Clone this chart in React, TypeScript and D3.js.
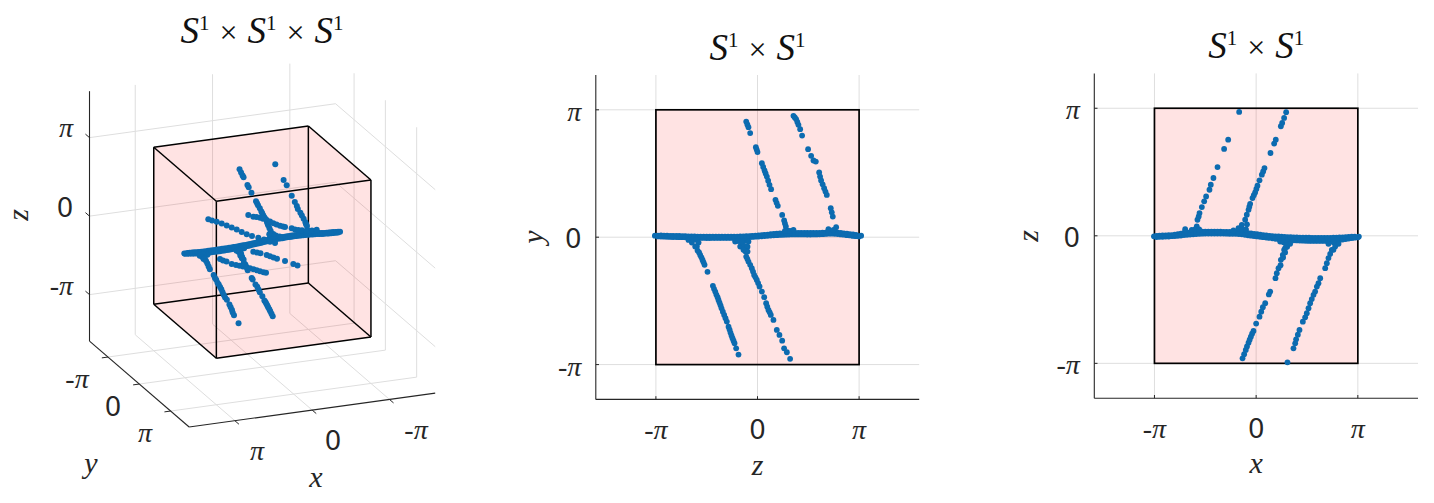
import React from "react";
import * as d3 from "d3";

// All coordinates are in units of pi.
const tickValues = [-1, 0, 1];
const tickLabels = ["-π", "0", "π"];

// Panel 2 (z, y)
const zyBand = [[-1.01,.012],[-.98,.006],[-.95,.014],[-.92,.004],[-.89,.012],[-.86,.002],[-.83,.011],[-.80,.001],[-.77,.010],[-.74,.0],[-.71,.008],[-.68,-.002],[-.65,.007],[-.62,-.004],[-.59,.005],[-.56,-.006],[-.53,.005],[-.50,-.007],[-.47,.004],[-.44,-.006],[-.41,.004],[-.38,-.006],[-.35,.004],[-.32,-.006],[-.29,.004],[-.26,-.006],[-.23,.005],[-.20,-.005],[-.17,.006],[-.14,-.002],[-.11,.008],[-.08,.001],[-.05,.011],[-.02,.004],[.01,.014],[.04,.007],[.07,.018],[.10,.011],[.13,.023],[.16,.015],[.19,.027],[.22,.018],[.25,.030],[.28,.02],[.31,.033],[.34,.022],[.37,.034],[.40,.022],[.43,.034],[.46,.022],[.49,.033],[.52,.021],[.55,.033],[.58,.022],[.61,.034],[.64,.024],[.67,.036],[.70,.028],[.73,.038],[.76,.027],[.79,.036],[.82,.022],[.85,.030],[.88,.016],[.91,.024],[.94,.010],[.97,.018],[1.0,.006],[1.02,.012],
  [-.965,.01],[-.905,.008],[-.845,.006],[-.785,.005],[-.725,.004],[-.665,.002],[-.605,0],[-.545,0],[-.485,-.002],[-.425,-.001],[-.365,-.001],[-.305,-.001],[-.245,0],[-.185,0],[-.125,.003],[-.065,.006],[-.005,.009],[.055,.012],[.115,.017],[.175,.021],[.235,.024],[.295,.026],[.355,.028],[.415,.028],[.475,.028],[.535,.027],[.595,.028],[.655,.03],[.715,.033],[.775,.032],[.835,.026],[.895,.02],[.955,.014]];
const zyBandEdge = [[-.98,.013],[-.95,.005],[-.92,.013],[-.89,.003],[-.86,.011],[-.83,.001],[-.80,.010],[-.77,0],[-.74,.009],[-.71,-.001],[-.68,.007],[-.65,-.003],[-.62,.006],[-.59,-.005],[-.56,.005],[-.53,-.006],[-.50,.004],[-.47,-.007],[-.44,.004],[-.41,-.006],[-.38,.004],[-.35,-.006],[-.32,.004],[-.29,-.006],[-.26,.004],[-.23,-.006],[-.20,.005],[-.17,-.004],[-.14,.007],[-.11,-.002],[-.08,.009],[-.05,.002],[-.02,.012],[.01,.005],[.04,.016],[.07,.009],[.10,.020],[.13,.013],[.16,.025],[.19,.016],[.22,.029],[.25,.019],[.28,.031],[.31,.021],[.34,.034],[.37,.022],[.40,.034],[.43,.022],[.46,.034],[.49,.021],[.52,.033],[.55,.022],[.58,.033],[.61,.023],[.64,.035],[.67,.026],[.70,.037],[.73,.028],[.76,.038],[.79,.025],[.82,.034],[.85,.02],[.88,.027],[.91,.014],[.94,.021],[.97,.008]];
const zyLowerLeft = [[-.679,-.021],[-.64,-.02],[-.60,-.02],[-.58,-.042],[-.597,-.073],[-.646,-.042],[-.613,-.073],[-.59,-.105],[-.575,-.12],[-.564,-.139],[-.552,-.158],[-.541,-.178],[-.531,-.197],[-.521,-.217],[-.492,-.272],[-.439,-.382],[-.428,-.405],[-.416,-.427],[-.405,-.45],[-.393,-.471],[-.384,-.492],[-.374,-.513],[-.364,-.535],[-.354,-.558],[-.341,-.585],[-.328,-.61],[-.315,-.636],[-.302,-.662],[-.285,-.702],[-.275,-.725],[-.266,-.749],[-.256,-.771],[-.246,-.793],[-.236,-.812],[-.226,-.832],[-.21,-.872],[-.187,-.921]];
const zyLowerRight = [[-.22,-.034],[-.17,-.073],[-.19,-.03],[-.13,-.03],[-.154,-.042],[-.089,-.034],[-.121,-.073],[-.098,-.075],[-.098,-.113],[-.12,-.11],[-.138,-.099],[-.111,-.152],[-.1,-.17],[-.089,-.191],[-.072,-.217],[-.056,-.243],[-.044,-.27],[-.033,-.296],[-.02,-.315],[-.007,-.335],[.006,-.36],[.02,-.387],[.043,-.427],[.066,-.471],[.085,-.518],[.096,-.545],[.108,-.571],[.12,-.59],[.131,-.61],[.157,-.649],[.19,-.728],[.216,-.767],[.243,-.812],[.262,-.872],[.289,-.903],[.321,-.955]];
const zyUpperMid = [[-.111,.908],[-.1,.885],[-.089,.864],[-.072,.817],[-.016,.707],[-.008,.688],[0,.668],[.043,.581],[.056,.552],[.069,.524],[.08,.5],[.092,.476],[.105,.443],[.118,.411],[.134,.377],[.177,.293],[.188,.27],[.2,.246],[.243,.175],[.262,.131],[.27,.108],[.279,.084],[.295,.052],[.27,.05],[.32,.05],[.354,.058]];
const zyUpperRight = [[.354,.953],[.367,.94],[.38,.927],[.392,.905],[.403,.882],[.42,.848],[.439,.798],[.498,.691],[.528,.639],[.551,.602],[.574,.594],[.607,.508],[.616,.476],[.626,.445],[.641,.415],[.656,.385],[.669,.358],[.682,.332],[.721,.228],[.731,.195],[.741,.162],[.698,.063],[.774,.079],[.748,.058]];

// Panel 3 (x, z); these branches also sit at y = 0 in the 3D view
const xzBand = [[-1.005,-.004],[-.98,-.010],[-.95,.002],[-.92,-.008],[-.89,.004],[-.86,-.006],[-.83,.006],[-.80,-.002],[-.77,.012],[-.74,.002],[-.71,.022],[-.68,.008],[-.65,.026],[-.62,.012],[-.59,.028],[-.56,.016],[-.53,.032],[-.50,.018],[-.47,.032],[-.44,.018],[-.41,.032],[-.38,.018],[-.35,.032],[-.32,.018],[-.29,.030],[-.26,.016],[-.23,.030],[-.20,.016],[-.17,.028],[-.14,.012],[-.11,.024],[-.08,.004],[-.05,.018],[-.02,-.002],[.01,.012],[.04,-.008],[.07,.006],[.10,-.014],[.13,.000],[.16,-.020],[.19,-.004],[.22,-.026],[.25,-.006],[.28,-.030],[.31,-.010],[.34,-.034],[.37,-.012],[.40,-.036],[.43,-.014],[.46,-.038],[.49,-.014],[.52,-.040],[.55,-.016],[.58,-.040],[.61,-.016],[.64,-.040],[.67,-.016],[.70,-.040],[.73,-.016],[.76,-.038],[.79,-.014],[.82,-.032],[.85,-.012],[.88,-.026],[.91,-.008],[.94,-.018],[.97,-.006],[1.0,-.012],[1.01,-.006],
  [-.965,-.004],[-.905,-.002],[-.845,0],[-.785,.005],[-.725,.012],[-.665,.017],[-.605,.02],[-.545,.024],[-.485,.025],[-.425,.025],[-.365,.025],[-.305,.024],[-.245,.023],[-.185,.022],[-.125,.018],[-.065,.011],[-.005,.005],[.055,-.001],[.115,-.007],[.175,-.012],[.235,-.016],[.295,-.02],[.355,-.023],[.415,-.025],[.475,-.026],[.535,-.028],[.595,-.028],[.655,-.028],[.715,-.028],[.775,-.026],[.835,-.022],[.895,-.017],[.955,-.012]];
const xzBandEdge = [[-.98,0],[-.95,-.008],[-.92,.003],[-.89,-.006],[-.86,.005],[-.83,-.003],[-.80,.009],[-.77,0],[-.74,.016],[-.71,.006],[-.68,.024],[-.65,.01],[-.62,.028],[-.59,.014],[-.56,.03],[-.53,.017],[-.50,.032],[-.47,.018],[-.44,.032],[-.41,.018],[-.38,.032],[-.35,.018],[-.32,.031],[-.29,.017],[-.26,.03],[-.23,.016],[-.20,.029],[-.17,.014],[-.14,.026],[-.11,.008],[-.08,.021],[-.05,.001],[-.02,.015],[.01,-.005],[.04,.009],[.07,-.011],[.10,.003],[.13,-.017],[.16,-.002],[.19,-.023],[.22,-.005],[.25,-.028],[.28,-.008],[.31,-.032],[.34,-.011],[.37,-.035],[.40,-.013],[.43,-.037],[.46,-.014],[.49,-.039],[.52,-.015],[.55,-.04],[.58,-.016],[.61,-.04],[.64,-.016],[.67,-.04],[.70,-.016],[.73,-.039],[.76,-.015],[.79,-.035],[.82,-.013],[.85,-.029],[.88,-.01],[.91,-.022],[.94,-.007],[.97,-.015]];
const xzLowerMid = [[.236,-.045],[.27,-.05],[.31,-.05],[.334,-.063],[.305,-.085],[.285,-.097],[.295,-.071],[.275,-.11],[.262,-.149],[.285,-.13],[.243,-.188],[.265,-.17],[.22,-.254],[.24,-.23],[.203,-.293],[.19,-.332],[.138,-.437],[.125,-.46],[.089,-.529],[.066,-.56],[.05,-.595],[.033,-.634],[0,-.688],[-.026,-.746],[-.04,-.768],[-.052,-.791],[-.064,-.815],[-.075,-.838],[-.09,-.867],[-.102,-.895],[-.118,-.928],[-.134,-.961]];
const xzLowerRight = [[.711,-.063],[.76,-.05],[.81,-.063],[.777,-.084],[.744,-.11],[.76,-.11],[.728,-.142],[.711,-.175],[.695,-.215],[.679,-.254],[.63,-.332],[.613,-.372],[.597,-.398],[.58,-.437],[.564,-.463],[.547,-.496],[.531,-.529],[.515,-.568],[.498,-.607],[.482,-.639],[.459,-.673],[.426,-.738],[.41,-.775],[.393,-.812],[.384,-.843],[.367,-.882],[.308,-.992]];
const xzUpperMid = [[-.223,.042],[-.174,.06],[-.14,.05],[-.1,.05],[-.141,.086],[-.108,.126],[-.09,.09],[-.092,.165],[-.075,.204],[-.067,.228],[-.059,.251],[-.036,.296],[-.023,.318],[-.01,.34],[.002,.367],[.013,.393],[.033,.435],[.056,.479],[.069,.505],[.082,.531],[.141,.649],[.177,.723],[.193,.754],[.243,.859],[.256,.885],[.275,.924],[.295,.969]];
const xzUpperLeft = [[-.698,.052],[-.633,.047],[-.584,.073],[-.6,.05],[-.56,.05],[-.577,.126],[-.565,.152],[-.557,.178],[-.534,.225],[-.511,.27],[-.492,.309],[-.459,.361],[-.446,.401],[-.42,.453],[-.38,.539],[-.315,.681],[-.275,.754],[-.167,.971]];

// Panel 1 (x, y, z): the shallower branches
const xyzUpperLong = [[.5,-.492,.19],[.5,-.374,.215],[.5,-.224,.251],[.5,-.064,.283],[.5,.096,.313],[.5,.256,.343],[.5,.415,.372],[.5,.575,.395],[.5,.735,.42],[.5,.904,.457],[.2,.365,.209],[.2,.547,.249],[.2,.738,.287],[.2,.898,.325]];
const xyzUpperShort = [[0,-.449,.191],[0,-.289,.225],[0,-.187,.256],[0,-.075,.286],[0,.021,.306],[0,.139,.33],[0,.244,.347],[0,.35,.36],[0,.452,.38],[0,.564,.404],[0,.66,.426],[0,.724,.442],[0,.938,.499],[-.3,.302,.224],[-.3,.408,.254],[-.3,.526,.292],[-.3,.676,.338],[-.3,.845,.398],[-.3,.995,.459]];
const xyzLowerRight = [[0,-.289,-.221],[0,-.171,-.192],[0,-.059,-.162],[0,.139,-.116],[0,.244,-.095],[0,.356,-.073],[0,.468,-.049],[0,.724,.009],[0,.989,.062],[-.3,.382,-.207]];
const xyzLowerLeft = [[.5,-.118,-.187],[.5,-.022,-.174],[.5,.089,-.148],[.5,.256,-.122],[.5,.393,-.088],[.5,.505,-.06],[.5,.617,-.03],[.5,.728,-.001],[.5,.84,.024],[.5,.952,.051],[.2,.313,-.224],[.2,.419,-.2],[.2,.531,-.174],[.2,.611,-.152]];

const zySeries = [zyBand, zyBandEdge, zyLowerLeft, zyLowerRight, zyUpperMid, zyUpperRight];
const xzSeries = [xzBand, xzBandEdge, xzLowerMid, xzLowerRight, xzUpperMid, xzUpperLeft];
const xyzSeries = [xyzUpperLong, xyzUpperShort, xyzLowerRight, xyzLowerLeft];

const BLUE = "#0c6bb0";
const GRID = "#dedede";
const AXIS = "#262626";
const TICK_FONT = "'Noto Sans', sans-serif";
const MATH_FONT = "'Liberation Serif', serif";

function TickText({ x, y, label, anchor }: any) {
  const zero = label === "0";
  return (
    <text x={x} y={y} textAnchor={anchor} fontFamily={zero ? TICK_FONT : MATH_FONT} fontStyle={zero ? "normal" : "italic"} fontSize={zero ? 28 : 28} fill={AXIS}>
      {label}
    </text>
  );
}

function Title({ x, y, count }: any) {
  const parts: any[] = [];
  for (let i = 0; i < count; i++) {
    if (i > 0) parts.push(<tspan key={"t" + i} dy={13} dx={10} fontStyle="normal" fontSize={32}>×</tspan>);
    parts.push(<tspan key={"s" + i} dy={0} dx={i > 0 ? 10 : 0} fontStyle="italic" fontSize={37}>S</tspan>);
    parts.push(<tspan key={"e" + i} dy={-13} fontSize={21} fontStyle="normal">1</tspan>);
  }
  return (
    <text x={x} y={y} textAnchor="middle" fontFamily={MATH_FONT} fill="#111">
      {parts}
    </text>
  );
}

function AxisLabel({ x, y, label, rotate }: any) {
  return (
    <text x={x} y={y} textAnchor="middle" fontFamily={MATH_FONT} fontStyle="italic" fontSize={30} fill={AXIS}
      transform={rotate ? `rotate(-90 ${x} ${y})` : undefined}>
      {label}
    </text>
  );
}

function Panel2D({ xRange, yRange, series, titleY, xLabel, yLabel, layout }: any) {
  const x = d3.scaleLinear().domain([-5 / Math.PI, 5 / Math.PI]).range(xRange);
  const y = d3.scaleLinear().domain([-4 / Math.PI, 4 / Math.PI]).range(yRange);
  const [x0, x1] = xRange;
  const [y0, y1] = yRange;
  return (
    <g>
      {tickValues.map((t) => (
        <g key={t}>
          <line x1={x(t)} x2={x(t)} y1={y0} y2={y1} stroke={GRID} strokeWidth={1} />
          <line x1={x0} x2={x1} y1={y(t)} y2={y(t)} stroke={GRID} strokeWidth={1} />
        </g>
      ))}
      <rect x={x(-1)} y={y(1)} width={x(1) - x(-1)} height={y(-1) - y(1)} fill="rgb(255,0,0)" fillOpacity={0.11} stroke="none" />
      <rect x={x(-1)} y={y(1)} width={x(1) - x(-1)} height={y(-1) - y(1)} fill="none" stroke="#000" strokeWidth={1.7} />
      <line x1={x0} x2={x0} y1={y0} y2={y1} stroke={AXIS} strokeWidth={1.1} />
      <line x1={x0} x2={x1} y1={y0} y2={y0} stroke={AXIS} strokeWidth={1.1} />
      {tickValues.map((t, i) => (
        <g key={"k" + t}>
          <line x1={x(t)} x2={x(t)} y1={y0} y2={y0 - 3.2} stroke={AXIS} />
          <line x1={x0} x2={x0 + 3.2} y1={y(t)} y2={y(t)} stroke={AXIS} />
          <TickText x={x(t)} y={y0 + 40} label={tickLabels[i]} anchor="middle" />
          <TickText x={x0 - 14.5} y={y(t) + 11} label={tickLabels[i]} anchor="end" />
        </g>
      ))}
      {series.map((s: number[][], i: number) => (
        <g key={"s" + i} fill={BLUE}>
          {s.map((d, j) => <circle key={j} cx={x(d[0])} cy={y(d[1])} r={2.9} />)}
        </g>
      ))}
      <Title x={(x0 + x1) / 2} y={titleY} count={2} />
      <AxisLabel x={(x0 + x1) / 2} y={layout.xLabelY} label={xLabel} />
      <AxisLabel x={layout.yLabelX} y={(y0 + y1) / 2} label={yLabel} rotate />
    </g>
  );
}

// 3D view: one linear scale per screen component of each data axis
const px = d3.scaleLinear().domain([-1, 1]).range([77.3, -77.3]);
const py = d3.scaleLinear().domain([-1, 1]).range([-31.3, 31.3]);
const qx = d3.scaleLinear().domain([-1, 1]).range([-10.65, 10.65]);
const qy = d3.scaleLinear().domain([-1, 1]).range([-27, 27]);
const qz = d3.scaleLinear().domain([-1, 1]).range([78.5, -78.5]);
const proj = (a: number, b: number, c: number): [number, number] => [
  262.35 + px(a) + py(b),
  242.15 + qx(a) + qy(b) + qz(c),
];

function Panel3D() {
  const L = 5 / Math.PI;
  const seg = (a: number[], b: number[], key: string, stroke: string, w: number) => {
    const p = proj(a[0], a[1], a[2]);
    const q = proj(b[0], b[1], b[2]);
    return <line key={key} x1={p[0]} y1={p[1]} x2={q[0]} y2={q[1]} stroke={stroke} strokeWidth={w} />;
  };
  const grid: any[] = [];
  tickValues.forEach((t) => {
    grid.push(seg([t, -L, -L], [t, -L, L], "a" + t, GRID, 1));
    grid.push(seg([-L, t, -L], [-L, t, L], "b" + t, GRID, 1));
    grid.push(seg([L, -L, t], [-L, -L, t], "c" + t, GRID, 1));
    grid.push(seg([-L, -L, t], [-L, L, t], "d" + t, GRID, 1));
    grid.push(seg([t, -L, -L], [t, L, -L], "e" + t, GRID, 1));
    grid.push(seg([-L, t, -L], [L, t, -L], "f" + t, GRID, 1));
  });
  const s = [-1, 1];
  const corners: [number, number][] = [];
  const edges: any[] = [];
  s.forEach((a) => s.forEach((b) => s.forEach((c) => {
    corners.push(proj(a, b, c));
    if (a < 0) edges.push(seg([a, b, c], [1, b, c], `x${a}${b}${c}`, "#000", 1.5));
    if (b < 0) edges.push(seg([a, b, c], [a, 1, c], `y${a}${b}${c}`, "#000", 1.5));
    if (c < 0) edges.push(seg([a, b, c], [a, b, 1], `z${a}${b}${c}`, "#000", 1.5));
  })));
  const hull = d3.polygonHull(corners) as [number, number][];
  const points3D: number[][] = [
    ...xzSeries.flatMap((list) => list.map((d) => [d[0], 0, d[1]])),
    ...xyzSeries.flat(),
  ];
  const zTickPos = [137, 217, 295];
  const yTickPos = [[77, 388], [113, 416], [145, 442]];
  const xTickPos = [[416, 439], [333, 450], [257, 460]];
  return (
    <g>
      {grid}
      <polygon points={hull.map((p) => p.join(",")).join(" ")} fill="rgb(255,0,0)" fillOpacity={0.11} />
      {edges}
      {seg([L, -L, -L], [L, -L, L], "az", AXIS, 1.1)}
      {seg([L, -L, -L], [L, L, -L], "ay", AXIS, 1.1)}
      {seg([L, L, -L], [-L, L, -L], "ax", AXIS, 1.1)}
      {tickValues.map((t, i) => (
        <g key={"m" + t}>
          {seg([L, -L, t], [L, -L - 0.13, t], "tz" + t, AXIS, 1)}
          {seg([L, t, -L], [L + 0.08, t, -L], "ty" + t, AXIS, 1)}
          {seg([t, L, -L], [t, L + 0.13, -L], "tx" + t, AXIS, 1)}
          <TickText x={73} y={zTickPos[2 - i]} label={tickLabels[i]} anchor="end" />
          <TickText x={yTickPos[i][0]} y={yTickPos[i][1]} label={tickLabels[i]} anchor="middle" />
          <TickText x={xTickPos[i][0]} y={xTickPos[i][1]} label={tickLabels[i]} anchor="middle" />
        </g>
      ))}
      <g fill={BLUE}>
        {points3D.map((d, j) => {
          const p = proj(d[0], d[1], d[2]);
          return <circle key={j} cx={p[0]} cy={p[1]} r={3} />;
        })}
      </g>
      <Title x={262} y={43} count={3} />
      <AxisLabel x={316} y={487} label="x" />
      <AxisLabel x={91} y={473} label="y" />
      <AxisLabel x={28} y={215} label="z" rotate />
    </g>
  );
}

export default function App() {
  return (
    <svg width={1434} height={503} viewBox="0 0 1434 503" style={{ position: "absolute", left: 0, top: 0, background: "#fff" }}>
      <Panel3D />
      <Panel2D xRange={[595.8, 919.2]} yRange={[399.4, 75]} series={zySeries} titleY={60} xLabel="z" yLabel="y"
        layout={{ xLabelY: 475, yLabelX: 543 }} />
      <Panel2D xRange={[1094.3, 1418]} yRange={[398.2, 73.4]} series={xzSeries} titleY={58} xLabel="x" yLabel="z"
        layout={{ xLabelY: 473, yLabelX: 1038 }} />
    </svg>
  );
}
